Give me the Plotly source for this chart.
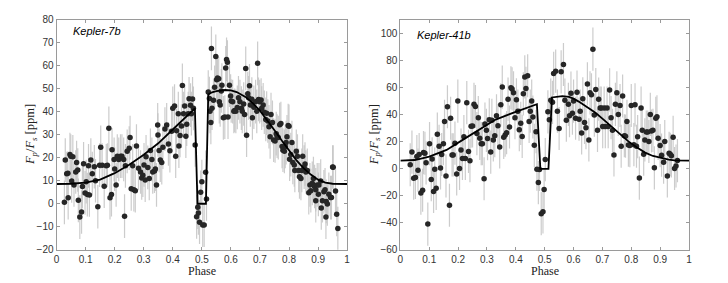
import plotly.graph_objects as go

# ---------------- Kepler-7b ----------------
k7_phase = [0.027,0.030,0.035,0.039,0.040,0.046,0.049,0.052,0.056,0.060,0.066,0.069,0.073,0.075,0.080,0.086,0.089,0.093,0.098,0.102,
            0.106,0.110,0.113,0.118,0.123,0.130,0.134,0.142,0.148,0.152,0.157,0.164,0.171,0.175,0.180,0.184,0.189,0.191,0.198,0.200,
            0.205,0.209,0.214,0.220,0.225,0.231,0.234,0.237,0.243,0.250,0.253,0.257,0.262,0.266,0.271,0.275,0.282,0.289,0.293,0.297,
            0.301,0.305,0.308,0.314,0.319,0.323,0.328,0.331,0.337,0.340,0.344,0.348,0.349,0.353,0.357,0.362,0.366,0.373,0.379,0.385,
            0.390,0.396,0.400,0.406,0.410,0.413,0.419,0.421,0.425,0.430,0.433,0.437,0.441,0.445,0.448,0.453,0.456,0.461,0.464,0.468,
            0.471,0.477,0.482,0.486,0.488,0.492,0.496,0.500,0.503,0.508,0.513,0.516,
            0.522,0.526,0.528,0.531,0.533,0.535,0.540,0.544,0.548,0.551,0.554,0.558,0.560,0.563,0.567,0.569,0.574,0.579,0.582,0.585,
            0.588,0.590,0.595,0.599,0.601,0.606,0.610,0.613,0.617,0.622,0.626,0.631,0.636,0.639,0.644,0.647,0.651,0.654,0.658,0.661,
            0.664,0.667,0.672,0.674,0.679,0.685,0.689,0.692,0.695,0.699,0.704,0.706,0.711,0.715,0.720,0.723,0.727,0.731,0.735,0.738,
            0.743,0.747,0.752,0.756,0.759,0.763,0.768,0.772,0.776,0.779,0.784,0.787,0.790,0.793,0.797,0.800,0.802,0.806,0.810,0.813,
            0.818,0.820,0.825,0.829,0.833,0.836,0.841,0.844,0.847,0.852,0.855,0.858,0.863,0.868,0.872,0.875,0.880,0.884,0.888,0.892,
            0.892,0.897,0.901,0.903,0.909,0.911,0.915,0.920,0.924,0.927,0.928,0.932,0.937,0.943,0.946,0.950,0.952,0.960,0.964,0.968]
k7_flux = [0.6,19.0,13.1,13.3,2.6,21.4,20.7,9.9,20.4,8.2,13.8,17.9,14.7,1.5,-5.8,-3.6,7.5,17.4,4.7,9.6,
           4.0,16.5,3.8,19.0,13.1,16.1,10.0,-1.3,16.8,24.6,16.8,7.6,16.5,16.8,32.8,2.6,4.0,23.5,19.3,15.1,
           8.2,20.7,19.3,20.7,20.7,19.3,-5.4,16.5,22.8,24.2,28.8,6.5,16.5,6.1,5.7,25.1,15.4,13.8,11.2,12.4,
           16.9,10.3,20.4,15.8,11.0,23.2,19.3,13.8,14.2,15.1,8.2,34.3,29.9,23.2,19.0,17.9,24.6,32.5,34.3,26.0,
           23.1,31.5,41.5,42.5,20.7,31.8,39.2,25.1,29.7,33.8,51.5,39.2,42.5,29.4,34.6,39.2,45.7,42.9,39.2,45.6,
           41.5,25.6,-5.7,-1.5,-4.0,-8.0,5.0,9.6,-9.3,-9.3,13.7,2.1,
           48.6,45.8,40.2,35.4,67.6,41.6,45.0,50.7,64.1,53.9,54.7,54.4,44.4,43.0,49.1,51.6,37.4,37.7,59.1,62.8,
           61.6,37.7,51.6,46.9,44.7,44.4,40.2,40.6,40.2,41.9,46.1,44.4,41.6,40.2,43.4,38.8,58.9,29.8,47.9,46.1,
           51.3,43.0,45.5,37.4,42.0,44.4,40.2,61.1,45.4,44.4,45.1,41.6,43.0,39.8,36.7,39.4,36.0,33.5,29.1,38.8,
           35.4,27.7,27.3,30.5,29.4,28.8,34.4,34.9,24.9,23.3,22.8,24.9,26.6,29.1,34.0,33.7,19.4,21.4,26.6,18.0,
           16.9,14.5,22.8,20.7,14.5,11.7,11.0,14.5,20.7,15.9,17.3,13.8,14.5,4.8,8.2,5.7,8.9,11.0,7.5,6.1,
           1.3,8.2,4.1,8.2,9.9,-1.8,1.3,5.2,6.1,-5.8,1.0,-0.1,4.1,2.7,2.7,16.0,15.9,5.5,-4.6,-10.8]
k7_err = [9.5] * len(k7_phase)

k7_model_phase = [0.0,0.05,0.10,0.15,0.20,0.25,0.30,0.35,0.40,0.45,0.476,0.485,0.514,0.522,0.535,0.55,0.58,0.60,0.62,0.65,0.675,
                  0.70,0.725,0.75,0.775,0.80,0.825,0.85,0.875,0.90,0.925,0.95,1.0]
k7_model_flux  = [8.6,8.7,9.2,10.5,13.3,17.0,21.3,26.3,32.3,38.5,41.5,0.0,0.0,47.5,48.5,49.0,49.5,49.3,48.6,46.5,43.8,
                  40.5,36.5,32.0,27.5,23.0,19.0,15.5,12.7,10.5,9.2,8.7,8.6]

# ---------------- Kepler-41b ----------------
k41_phase = [0.034,0.040,0.046,0.052,0.057,0.061,0.065,0.071,0.077,0.080,0.085,0.089,0.095,0.101,0.107,0.110,0.115,0.119,0.124,0.128,
             0.134,0.139,0.143,0.149,0.153,0.158,0.163,0.170,0.174,0.179,0.183,0.189,0.195,0.199,0.205,0.210,0.215,0.220,0.225,0.230,
             0.236,0.241,0.245,0.250,0.255,0.260,0.265,0.270,0.275,0.280,0.284,0.290,0.293,0.298,0.302,0.308,0.313,0.317,0.322,0.327,
             0.333,0.338,0.344,0.348,0.353,0.358,0.363,0.368,0.373,0.378,0.383,0.387,0.392,0.397,0.402,0.407,0.412,0.417,0.422,0.426,
             0.431,0.435,0.441,0.446,0.450,0.455,0.459,0.464,0.470,0.473,0.478,0.482,0.488,0.494,0.498,0.502,0.511,0.516,0.521,0.527,
             0.531,0.538,0.544,0.550,0.557,0.565,0.570,0.575,0.582,0.586,0.591,0.596,0.600,0.607,0.612,0.619,0.623,0.628,0.632,0.638,
             0.643,0.648,0.653,0.657,0.662,0.667,0.672,0.677,0.683,0.687,0.692,0.696,0.701,0.706,0.710,0.716,0.720,0.725,0.730,0.735,
             0.740,0.745,0.750,0.755,0.761,0.765,0.770,0.776,0.780,0.785,0.790,0.795,0.800,
             0.809,0.813,0.818,0.822,0.828,0.834,0.838,0.843,0.847,0.852,0.857,0.861,0.866,0.870,0.875,0.880,0.885,0.889,0.893,0.900,
             0.905,0.912,0.916,0.925,0.931,0.935,0.939,0.945,0.950,0.955,0.960]
k41_flux = [3.0,12.4,-7.0,-6.4,9.1,-1.0,10.6,-18.0,-15.9,12.0,11.5,4.4,-41.0,18.6,-8.0,7.3,-16.8,-0.3,-14.5,25.7,
            16.7,0.6,10.6,18.6,35.1,-5.3,46.0,-27.0,37.5,10.3,10.3,19.0,-3.8,50.2,0.2,13.9,7.7,23.8,7.7,49.0,
            12.9,6.0,31.6,31.8,47.8,46.2,26.1,37.9,22.6,18.6,18.6,-7.4,33.2,28.5,22.4,36.3,12.4,36.0,21.4,24.5,
            39.3,32.0,16.2,47.4,60.6,23.3,25.0,26.8,51.6,31.0,60.1,59.2,56.3,37.9,51.2,42.7,29.0,33.7,24.0,55.6,
            68.1,59.6,69.0,35.1,42.7,50.2,38.4,17.4,27.5,-0.3,-10.2,-0.5,-33.3,-31.9,-15.4,6.8,42.2,36.3,50.9,49.3,
            70.7,72.4,42.7,29.9,71.9,77.3,50.9,36.0,47.8,39.3,56.1,41.2,50.2,37.5,56.8,36.8,42.7,26.6,51.9,34.4,
            30.4,62.9,21.4,56.3,54.9,88.7,39.8,58.7,28.5,51.6,45.0,45.0,31.3,45.0,31.3,45.0,31.3,58.5,37.9,28.5,
            10.3,47.8,56.3,40.3,46.9,16.7,54.0,24.5,24.2,35.1,17.6,17.2,46.9,
            17.9,47.4,16.7,23.8,-6.9,45.0,28.5,10.8,21.4,27.3,27.3,20.2,40.3,28.0,28.5,0.7,37.5,38.6,22.6,17.2,
            10.1,4.9,20.2,-5.3,11.5,10.8,9.6,23.3,0.2,2.1,6.1]
k41_err = [16.0] * len(k41_phase)

k41_model_phase = [0.0,0.05,0.10,0.16,0.22,0.275,0.33,0.39,0.447,0.473,0.485,0.513,0.525,0.54,0.561,0.584,0.60,0.618,0.645,0.676,
                   0.705,0.733,0.76,0.79,0.82,0.848,0.875,0.905,0.93,0.95,1.0]
k41_model_flux  = [6.0,6.5,9.0,14.0,22.0,29.5,36.5,41.5,45.5,47.9,0.0,0.0,52.9,53.5,53.8,53.3,52.0,49.8,46.0,41.5,
                   36.3,30.9,25.5,20.3,15.8,12.0,9.5,7.8,6.8,6.2,6.0]

fig = go.Figure()

bar_color = "rgba(195,195,195,0.85)"
dot_color = "#262626"

fig.add_trace(go.Scatter(x=k7_phase, y=k7_flux, mode="markers",
                         error_y=dict(type="data", array=k7_err, color=bar_color, thickness=1.2, width=0),
                         marker=dict(size=5.5, color=dot_color), xaxis="x", yaxis="y", showlegend=False))
fig.add_trace(go.Scatter(x=k7_model_phase, y=k7_model_flux, mode="lines", line=dict(color="black", width=1.8),
                         xaxis="x", yaxis="y", showlegend=False))
fig.add_trace(go.Scatter(x=k41_phase, y=k41_flux, mode="markers",
                         error_y=dict(type="data", array=k41_err, color=bar_color, thickness=1.2, width=0),
                         marker=dict(size=5.5, color=dot_color), xaxis="x2", yaxis="y2", showlegend=False))
fig.add_trace(go.Scatter(x=k41_model_phase, y=k41_model_flux, mode="lines", line=dict(color="black", width=1.8),
                         xaxis="x2", yaxis="y2", showlegend=False))

axis_common = dict(showline=True, linecolor="#9a9a9a", linewidth=1, mirror="ticks", ticks="inside", ticklen=3,
                   tickcolor="#9a9a9a", showgrid=False, zeroline=False,
                   tickfont=dict(family="Liberation Sans, Arial", size=10, color="#333333"))
xtitle_font = dict(family="Liberation Serif, Times New Roman", size=12, color="#222222")
ytitle_font = dict(family="Liberation Serif, Times New Roman", size=12.5, color="#222222")
ydom = [1 - 254.5 / 283, 1 - 14.5 / 283]
ylabel = "<i>F</i><sub><i>p</i></sub>/<i>F</i><sub><i>s</i></sub> [ppm]"

fig.update_layout(
    width=728, height=283, margin=dict(l=0, r=0, t=0, b=0),
    paper_bgcolor="white", plot_bgcolor="white",
    xaxis=dict(domain=[54 / 728, 347 / 728], range=[0, 1], dtick=0.1, tickformat="~g", anchor="y", **axis_common),
    yaxis=dict(domain=ydom, range=[-20, 80], dtick=10, anchor="x", **axis_common),
    xaxis2=dict(domain=[400.7 / 728, 691.7 / 728], range=[0, 1], dtick=0.1, tickformat="~g", anchor="y2", **axis_common),
    yaxis2=dict(domain=ydom, range=[-60, 110.4], tick0=-60, dtick=20, anchor="x2", **axis_common),
    annotations=[
        dict(text="<i>Kepler-7b</i>", x=0.05, y=75, xref="x", yref="y", xanchor="left", yanchor="middle",
             showarrow=False, font=dict(family="Liberation Sans, Arial", size=11, color="black")),
        dict(text="<i>Kepler-41b</i>", x=0.05, y=99.5, xref="x2", yref="y2", xanchor="left", yanchor="middle",
             showarrow=False, font=dict(family="Liberation Sans, Arial", size=11, color="black")),
        dict(text="Phase", x=200.5 / 728, y=1 - 276.5 / 283, xref="paper", yref="paper", xanchor="center", yanchor="middle",
             showarrow=False, font=xtitle_font),
        dict(text="Phase", x=546 / 728, y=1 - 276.5 / 283, xref="paper", yref="paper", xanchor="center", yanchor="middle",
             showarrow=False, font=xtitle_font),
        dict(text=ylabel, x=29 / 728, y=1 - 134 / 283, xref="paper", yref="paper", xanchor="center", yanchor="middle",
             textangle=-90, showarrow=False, font=ytitle_font),
        dict(text=ylabel, x=375 / 728, y=1 - 134 / 283, xref="paper", yref="paper", xanchor="center", yanchor="middle",
             textangle=-90, showarrow=False, font=ytitle_font),
    ],
)

fig.write_html("out.html", config={"displayModeBar": False},
               post_script="document.body.style.margin='0';document.body.style.padding='0';")
